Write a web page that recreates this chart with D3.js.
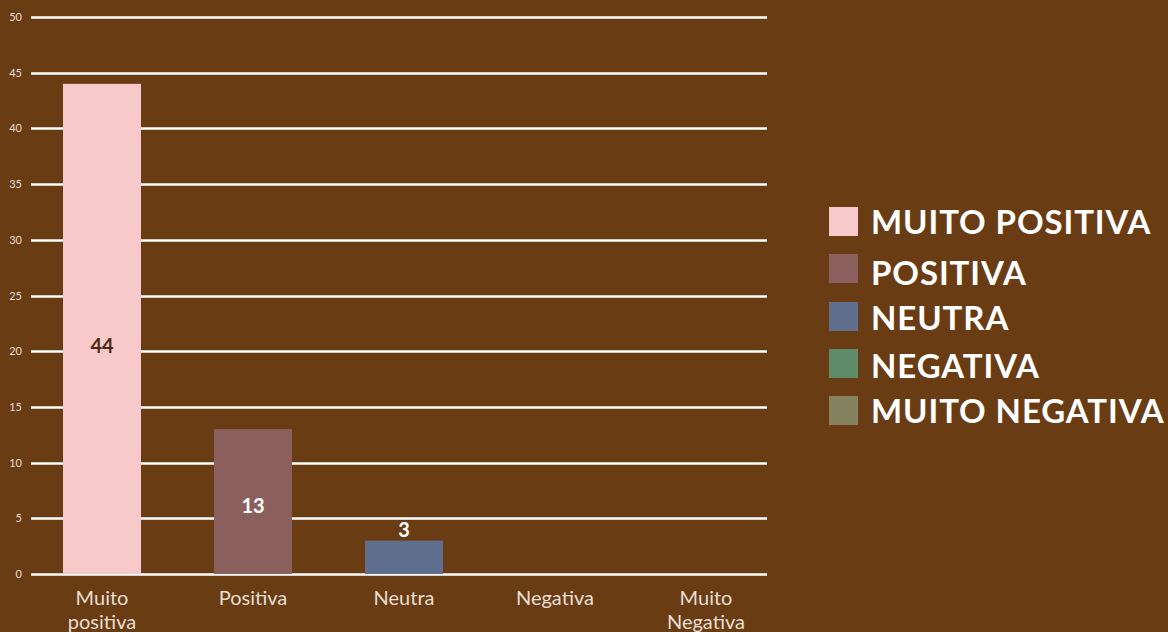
<!DOCTYPE html>
<html><head><meta charset="utf-8">
<script src="https://cdn.jsdelivr.net/npm/d3@7"></script>
<style>html,body{margin:0;padding:0;background:#693C14;}svg{display:block;}</style>
</head><body>
<svg id="c" width="1168" height="632"></svg>
<script>
const categories = ["Muito positiva", "Positiva", "Neutra", "Negativa", "Muito Negativa"];
const values = [44, 13, 3, 0, 0];
const legendLabels = ["MUITO POSITIVA", "POSITIVA", "NEUTRA", "NEGATIVA", "MUITO NEGATIVA"];
const colors = ["#F7C9CA", "#8C5F5F", "#5E6E8C", "#5E8C6A", "#85835F"];
const yTicks = [0, 5, 10, 15, 20, 25, 30, 35, 40, 45, 50];

const svg = d3.select("#c");
const font = "Lato, 'Open Sans', sans-serif";
svg.append("rect").attr("width",1168).attr("height",632).attr("fill","#693C14");

const y = d3.scaleLinear().domain([0,50]).range([574,17]);
const x = d3.scaleBand().domain(categories).range([26.5,781.5]).paddingInner(0.483).paddingOuter(0.2415);
const gx0 = 31, gx1 = 767;

// grid lines
svg.append("g").selectAll("line").data(yTicks).join("line")
  .attr("x1",gx0).attr("x2",gx1)
  .attr("y1",d=>Math.round(y(d))+0.5).attr("y2",d=>Math.round(y(d))+0.5)
  .attr("stroke","#ffffff").attr("stroke-width",2.5);

// y tick labels
svg.append("g").selectAll("text").data(yTicks).join("text")
  .attr("x",22).attr("y",d=>y(d)+4)
  .attr("text-anchor","end").attr("font-family",font).attr("font-size",11)
  .attr("fill","#EADFD2").text(d=>d);

// bars
const bw = 78;
svg.append("g").selectAll("rect").data(values).join("rect")
  .attr("x",(d,i)=>x(categories[i])+x.bandwidth()/2-bw/2)
  .attr("width",bw)
  .attr("y",d=>y(d)).attr("height",d=>y(0)-y(d))
  .attr("fill",(d,i)=>colors[i]);

// value labels
values.forEach((v,i)=>{
  if(v<=0) return;
  const cx = x(categories[i])+x.bandwidth()/2;
  const h = y(0)-y(v);
  let ty, fill;
  if(i===0){ ty = y(v*0.465)+7; fill = "#4A2A12"; }
  else if(h>40){ ty = y(v*0.47)+7; fill = "#ffffff"; }
  else { ty = y(v)-4; fill="#ffffff"; }
  svg.append("text").attr("x",cx).attr("y",ty).attr("text-anchor","middle")
    .attr("font-family",font).attr("font-weight","bold").attr("font-size",20)
    .attr("fill",fill).text(v);
});

// x labels
categories.forEach((c,i)=>{
  const cx = x(c)+x.bandwidth()/2;
  const words = c.split(" ");
  const t = svg.append("text").attr("text-anchor","middle")
    .attr("font-family",font).attr("font-size",20).attr("fill","#EADFD2");
  words.forEach((w,j)=>{
    t.append("tspan").attr("x",cx).attr("y",605+j*24).text(w);
  });
});

// legend
const ly = [207,254,302,349,396];
const lty = [234,285,330,378,423];
legendLabels.forEach((l,i)=>{
  svg.append("rect").attr("x",829).attr("y",ly[i]).attr("width",29).attr("height",29).attr("fill",colors[i]);
  svg.append("text").attr("x",871).attr("y",lty[i]).attr("font-family",font)
    .attr("font-weight","bold").attr("font-size",33).attr("letter-spacing",0.9)
    .attr("fill","#ffffff").text(l);
});
</script>
</body></html>
